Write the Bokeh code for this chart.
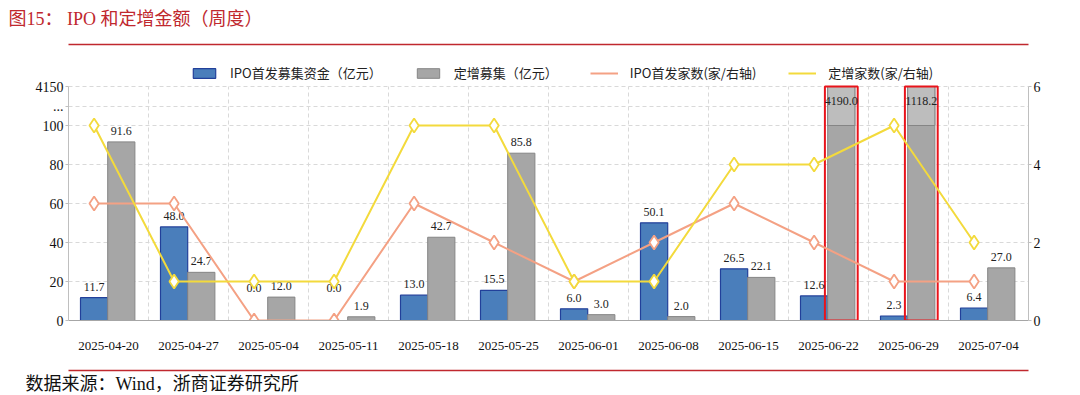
import numpy as np
from bokeh.plotting import figure
from bokeh.models import (ColumnDataSource, Range1d, LinearAxis, FixedTicker, Legend, LegendItem,
                          Title)
from bokeh.embed import file_html
from bokeh.resources import INLINE
from bokeh.core.properties import value
from bokeh.transform import dodge

# ---------------- data ----------------
dates = ["2025-04-20", "2025-04-27", "2025-05-04", "2025-05-11", "2025-05-18", "2025-05-25",
         "2025-06-01", "2025-06-08", "2025-06-15", "2025-06-22", "2025-06-29", "2025-07-04"]
ipo_amount = [11.7, 48.0, 0.0, 0.0, 13.0, 15.5, 6.0, 50.1, 26.5, 12.6, 2.3, 6.4]
private_amount = [91.6, 24.7, 12.0, 1.9, 42.7, 85.8, 3.0, 2.0, 22.1, 4190.0, 1118.2, 27.0]
ipo_count = [3, 3, 0, 0, 3, 2, 1, 2, 3, 2, 1, 1]
private_count = [5, 1, 1, 1, 5, 5, 1, 1, 4, 4, 5, 2]

left_ticks = [0, 20, 40, 60, 80, 100, 110, 120]
left_tick_labels = {110: "...", 120: "4150"}
right_ticks = [0, 2, 4, 6]
axis_break = 100      # values above this are drawn on the broken part of the axis
axis_top = 120
count_top = 6

title_text = "图15： IPO 和定增金额（周度）"
source_text = "数据来源：Wind，浙商证券研究所"
legend_labels = ["IPO首发募集资金（亿元）", "定增募集（亿元）", "IPO首发家数(家/右轴)", "定增家数(家/右轴)"]

# ---------------- styles / layout ----------------
BLUE, BLUE_LINE = "#4A7EBB", "#22409A"
GRAY, GRAY_LINE, GRAY_TOP = "#A6A6A6", "#858585", "#BDBDBD"
ORANGE, YELLOW = "#F4A184", "#F3DA3C"
RED = "#C0282E"
GRID = "#D9D9D9"
SERIF = "Liberation Serif, Noto Sans CJK SC"
CJK = "Noto Sans CJK SC"
OFF_B, OFF_G = -0.18, 0.16
BW = 0.34
PLOT_H = 234          # pixel height of the 0..120 value area
FRAME_H = 276         # frame extends up to the red rule (legend lives in the headroom)
head = FRAME_H / PLOT_H

x = np.arange(len(dates))
pa = np.array(private_amount)
ia = np.array(ipo_amount)
src = ColumnDataSource(dict(
    x=x,
    ipo=ia,
    priv=np.minimum(pa, axis_top),
    ipo_cnt=ipo_count,
    priv_cnt=private_count,
    ipo_txt=[f"{v:.1f}" for v in ipo_amount],
    priv_txt=[f"{v:.1f}" for v in private_amount],
    ipo_ly=np.where(ia == 0, 11, ia),
    priv_ly=np.where(pa > axis_break, axis_break + 7, pa),
))
big = pa > axis_break
src_big = ColumnDataSource(dict(x=x[big]))
sep = ColumnDataSource(dict(x=np.arange(len(dates)) + 0.5))

p = figure(frame_width=960, frame_height=FRAME_H, x_range=Range1d(-0.5, len(dates) - 0.5),
           y_range=Range1d(0, axis_top * head), toolbar_location=None, output_backend="svg",
           title=None, min_border_left=68, min_border_right=52,
           min_border_top=0, min_border_bottom=0)
p.outline_line_color = None
p.extra_y_ranges = {"cnt": Range1d(0, count_top * head)}

# vertical dashed separators between weeks (limited to the value area)
p.segment(x0="x", x1="x", y0=0, y1=axis_top, source=sep, line_color=GRID, line_dash="4 3",
          line_width=1)

r_blue = p.vbar(x=dodge("x", OFF_B), top="ipo", width=BW, source=src,
                fill_color=BLUE, line_color=BLUE_LINE, line_width=1.2)
r_gray = p.vbar(x=dodge("x", OFF_G), top="priv", width=BW, source=src,
                fill_color=GRAY, line_color=GRAY_LINE, line_width=1)
p.vbar(x=dodge("x", OFF_G), bottom=axis_break, top=axis_top, width=BW, source=src_big,
       fill_color=GRAY_TOP, line_color=GRAY_LINE, line_width=1)
p.vbar(x=dodge("x", OFF_G), bottom=0, top=axis_top, width=BW + 0.07, source=src_big,
       fill_color=None, line_color="#E8141B", line_width=2)

lbl = dict(text_font=value("Liberation Serif"), text_font_size="12px", text_color="#222222",
           text_align="center", text_baseline="middle", y_offset=-11)
p.text(x=dodge("x", OFF_B), y="ipo_ly", text="ipo_txt", source=src, **lbl)
p.text(x=dodge("x", OFF_G), y="priv_ly", text="priv_txt", source=src, **lbl)

r_or = p.line(x=dodge("x", OFF_B), y="ipo_cnt", source=src, y_range_name="cnt",
              line_color=ORANGE, line_width=2)
p.scatter(x=dodge("x", OFF_B), y="ipo_cnt", source=src, y_range_name="cnt", marker="diamond",
          size=14, fill_color="white", line_color=ORANGE, line_width=1.8)
r_ye = p.line(x=dodge("x", OFF_B), y="priv_cnt", source=src, y_range_name="cnt",
              line_color=YELLOW, line_width=2)
p.scatter(x=dodge("x", OFF_B), y="priv_cnt", source=src, y_range_name="cnt", marker="diamond",
          size=14, fill_color="white", line_color=YELLOW, line_width=1.8)

# axes
p.xaxis.ticker = FixedTicker(ticks=list(range(len(dates))))
p.xaxis.major_label_overrides = {i: d for i, d in enumerate(dates)}
p.xaxis.major_tick_line_color = None
p.xaxis.major_tick_out = 0
p.xaxis.minor_tick_line_color = None
p.xaxis.axis_line_color = "#A6A6A6"
p.xaxis.major_label_standoff = 21
p.xaxis.major_label_text_font = "Liberation Serif"
p.xaxis.major_label_text_font_size = "13px"
p.xaxis.major_label_text_color = "#111111"
p.xaxis.axis_label = " "
p.xaxis.axis_label_text_font_size = "12px"
p.xaxis.axis_label_standoff = 1

p.yaxis.ticker = FixedTicker(ticks=left_ticks)
p.yaxis.bounds = (0, axis_top)
p.yaxis.major_label_overrides = left_tick_labels
p.yaxis.minor_tick_line_color = None
p.yaxis.major_tick_in = 0
p.yaxis.major_tick_out = 3
p.yaxis.major_tick_line_color = "#BFBFBF"
p.yaxis.axis_line_color = "#BFBFBF"
p.yaxis.major_label_standoff = 2
p.yaxis.major_label_text_font = "Liberation Serif"
p.yaxis.major_label_text_font_size = "14px"
p.yaxis.major_label_text_color = "#111111"

ry = LinearAxis(y_range_name="cnt", ticker=FixedTicker(ticks=right_ticks), bounds=(0, count_top))
ry.minor_tick_line_color = None
ry.major_tick_in = 0
ry.major_tick_out = 3
ry.major_tick_line_color = "#BFBFBF"
ry.axis_line_color = "#BFBFBF"
ry.major_label_standoff = 2
ry.major_label_text_font = "Liberation Serif"
ry.major_label_text_font_size = "14px"
ry.major_label_text_color = "#111111"
p.add_layout(ry, "right")

# grids
p.ygrid.ticker = FixedTicker(ticks=left_ticks)
p.ygrid.grid_line_color = GRID
p.ygrid.grid_line_dash = "4 3"
p.xgrid.visible = False

# legend in the headroom above the value area
legend = Legend(items=[LegendItem(label=legend_labels[0], renderers=[r_blue]),
                       LegendItem(label=legend_labels[1], renderers=[r_gray]),
                       LegendItem(label=legend_labels[2], renderers=[r_or]),
                       LegendItem(label=legend_labels[3], renderers=[r_ye])],
                orientation="horizontal", location=(122, 238),
                border_line_color=None, background_fill_alpha=0,
                label_text_font=CJK, label_text_font_size="13px", label_text_color="#222222",
                glyph_width=28, glyph_height=12, spacing=32, label_standoff=12,
                padding=0, margin=0)
p.add_layout(legend, "center")


def rule(spacer_size=None):
    ax = LinearAxis(ticker=FixedTicker(ticks=[]), axis_line_color=RED, axis_line_width=1.5,
                    major_tick_line_color=None, minor_tick_line_color=None,
                    major_tick_out=0, major_label_standoff=0)
    if spacer_size is not None:
        ax.axis_label = " "
        ax.axis_label_text_font_size = spacer_size
        ax.axis_label_standoff = 0
    return ax


# above: red rule + title
p.add_layout(rule("6px"), "above")
p.add_layout(Title(text=title_text, align="left", offset=-60, text_font=SERIF,
                   text_font_size="18px", text_font_style="normal", text_color=RED,
                   standoff=13), "above")

# below: red rule + source note
p.add_layout(rule(), "below")
p.add_layout(Title(text=source_text, align="left", offset=-43, text_font=SERIF,
                   text_font_size="18px", text_font_style="normal", text_color="#111111",
                   standoff=2), "below")

open("out.html", "w").write(file_html(p, INLINE))
